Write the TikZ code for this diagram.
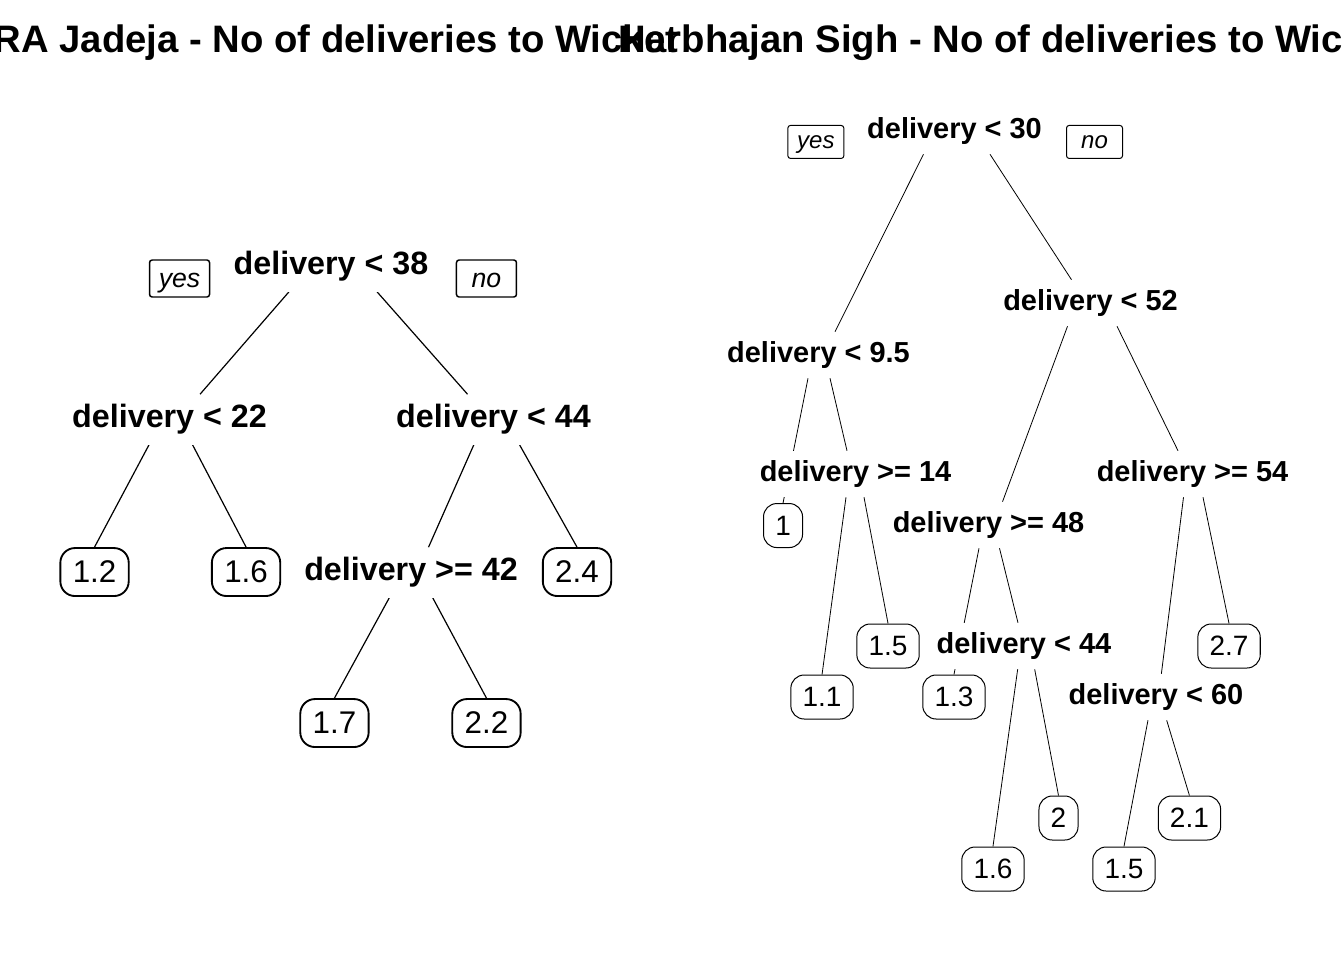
\documentclass[tikz,border=0pt]{standalone}
\usepackage{fontspec}
\setmainfont{Liberation Sans}
\usetikzlibrary{positioning,calc,backgrounds}

\begin{document}
\begin{tikzpicture}[x=0.75pt,y=-0.75pt,on grid,
   every node/.style={inner sep=0pt},
   plottitle/.style={font=\fontsize{28.7}{32}\selectfont\bfseries,anchor=base},
   jsplit/.style={font=\fontsize{24.2}{28}\selectfont\bfseries,fill=white,
     minimum height=37.5pt,inner xsep=2pt},
   jleaf/.style={draw,line width=1.4pt,rounded corners=11pt,
     font=\fontsize{23.5}{28}\selectfont,minimum height=36pt,inner xsep=9.3pt},
   jyn/.style={draw,line width=1.1pt,rounded corners=2pt,
     font=\fontsize{20}{24}\selectfont\itshape,text height=17.1pt,text depth=4.2pt,
     minimum width=45pt,minimum height=27.75pt},
   jbranch/.style={line width=0.9pt},
   hsplit/.style={font=\fontsize{21.7}{25}\selectfont\bfseries,fill=white,
     minimum height=34.5pt,inner xsep=2pt},
   hleaf/.style={draw,line width=0.75pt,rounded corners=10pt,
     font=\fontsize{21}{25}\selectfont,minimum height=33pt,inner xsep=8.8pt},
   hyn/.style={draw,line width=0.75pt,rounded corners=2pt,
     font=\fontsize{18}{22}\selectfont\itshape,text height=13.8pt,text depth=3.8pt,
     minimum width=42pt,minimum height=24.75pt},
   hbranch/.style={line width=0.6pt}]
  \useasboundingbox (0,0) rectangle (1344,960);
  \clip (0,0) rectangle (1344,960);

  % titles
  \node[plottitle] (t1) at (336,52) {RA Jadeja - No of deliveries to Wicket};
  \node[plottitle] (t2) at (1008,52) {Harbhajan Sigh - No of deliveries to Wicket};

  % Jadeja tree
  \node[jsplit] (j0) at (331,266.5) {delivery < 38};
  \node[jyn] (jyes) [below left=9pt and 113.6pt of j0] {yes};
  \node[jyn] (jno) [below right=9pt and 116.6pt of j0] {no};
  \node[jsplit] (j1) [below left=114.75pt and 121.1pt of j0] {delivery < 22};
  \node[jsplit] (j2) [below right=114.75pt and 121.9pt of j0] {delivery < 44};
  \node[jleaf] (j12) [below left=114.4pt and 56.25pt of j1] {1.2};
  \node[jleaf] (j16) [below right=114.4pt and 57.4pt of j1] {1.6};
  \node[jsplit] (j3) [below left=114.75pt and 61.9pt of j2] {delivery >= 42};
  \node[jleaf] (j24) [below right=114.4pt and 62.6pt of j2] {2.4};
  \node[jleaf] (j17) [below left=112.9pt and 57.4pt of j3] {1.7};
  \node[jleaf] (j22) [below right=112.9pt and 56.6pt of j3] {2.2};

  % Harbhajan tree
  \node[hsplit] (h0) at (954.5,131) {delivery < 30};
  \node[hyn] (hyes) [below left=8.2pt and 104pt of h0] {yes};
  \node[hyn] (hno) [below right=8.2pt and 105pt of h0] {no};
  \node[hsplit] (h1) [below left=168pt and 102pt of h0] {delivery < 9.5};
  \node[hsplit] (h2) [below right=129pt and 102pt of h0] {delivery < 52};
  \node[hleaf] (k1) [below left=127.9pt and 26.6pt of h1] {1};
  \node[hsplit] (h3) [below right=89.25pt and 27.75pt of h1] {delivery >= 14};
  \node[hleaf] (k11) [below left=167.25pt and 25.1pt of h3] {1.1};
  \node[hleaf] (k15) [below right=129pt and 24.4pt of h3] {1.5};
  \node[hsplit] (h4) [below left=166.5pt and 76.5pt of h2] {delivery >= 48};
  \node[hsplit] (h6) [below right=128.25pt and 76.5pt of h2] {delivery >= 54};
  \node[hleaf] (k13) [below left=129pt and 25.9pt of h4] {1.3};
  \node[hsplit] (h5) [below right=90.75pt and 26.6pt of h4] {delivery < 44};
  \node[hleaf] (k16) [below left=167.25pt and 23.25pt of h5] {1.6};
  \node[hleaf] (k2) [below right=129pt and 25.9pt of h5] {2};
  \node[hsplit] (h7) [below left=167.25pt and 27.4pt of h6] {delivery < 60};
  \node[hleaf] (k27) [below right=129pt and 27.4pt of h6] {2.7};
  \node[hleaf] (k15b) [below left=129pt and 24pt of h7] {1.5};
  \node[hleaf] (k21) [below right=90.75pt and 25.1pt of h7] {2.1};

  % branches, kept behind the split labels
  \begin{scope}[on background layer]
    \begin{scope}[jbranch]
      \draw ($(j0.south)+(-42,0)$) -- ($(j1.north)+(30.5,0)$);
      \draw ($(j0.south)+(46,0)$) -- ($(j2.north)+(-26,0)$);
      \draw ($(j1.south)+(-20.5,0)$) -- (j12.north);
      \draw ($(j1.south)+(23,0)$) -- (j16.north);
      \draw ($(j2.south)+(-19.7,0)$) -- ($(j3.north)+(17.5,0)$);
      \draw ($(j2.south)+(26,0)$) -- (j24.north);
      \draw ($(j3.south)+(-21.7,0)$) -- (j17.north);
      \draw ($(j3.south)+(21.7,0)$) -- (j22.north);
    \end{scope}
    \begin{scope}[hbranch]
      \draw ($(h0.south)+(-31,0)$) -- ($(h1.north)+(16.5,0)$);
      \draw ($(h0.south)+(35.5,0)$) -- ($(h2.north)+(-19,0)$);
      \draw ($(h1.south)+(-10.5,0)$) -- (k1.north);
      \draw ($(h1.south)+(11.5,0)$) -- ($(h3.north)+(-8.5,0)$);
      \draw ($(h3.south)+(-9.5,0)$) -- (k11.north);
      \draw ($(h3.south)+(8.5,0)$) -- (k15.north);
      \draw ($(h2.south)+(-23,0)$) -- ($(h4.north)+(14,0)$);
      \draw ($(h2.south)+(26.5,0)$) -- ($(h6.north)+(-14.5,0)$);
      \draw ($(h4.south)+(-9.5,0)$) -- (k13.north);
      \draw ($(h4.south)+(11,0)$) -- ($(h5.north)+(-6,0)$);
      \draw ($(h5.south)+(-6.3,0)$) -- (k16.north);
      \draw ($(h5.south)+(10.7,0)$) -- (k2.north);
      \draw ($(h6.south)+(-9,0)$) -- ($(h7.north)+(5.4,0)$);
      \draw ($(h6.south)+(10.5,0)$) -- (k27.north);
      \draw ($(h7.south)+(-8,0)$) -- (k15b.north);
      \draw ($(h7.south)+(10.7,0)$) -- (k21.north);
    \end{scope}
  \end{scope}
\end{tikzpicture}
\end{document}
